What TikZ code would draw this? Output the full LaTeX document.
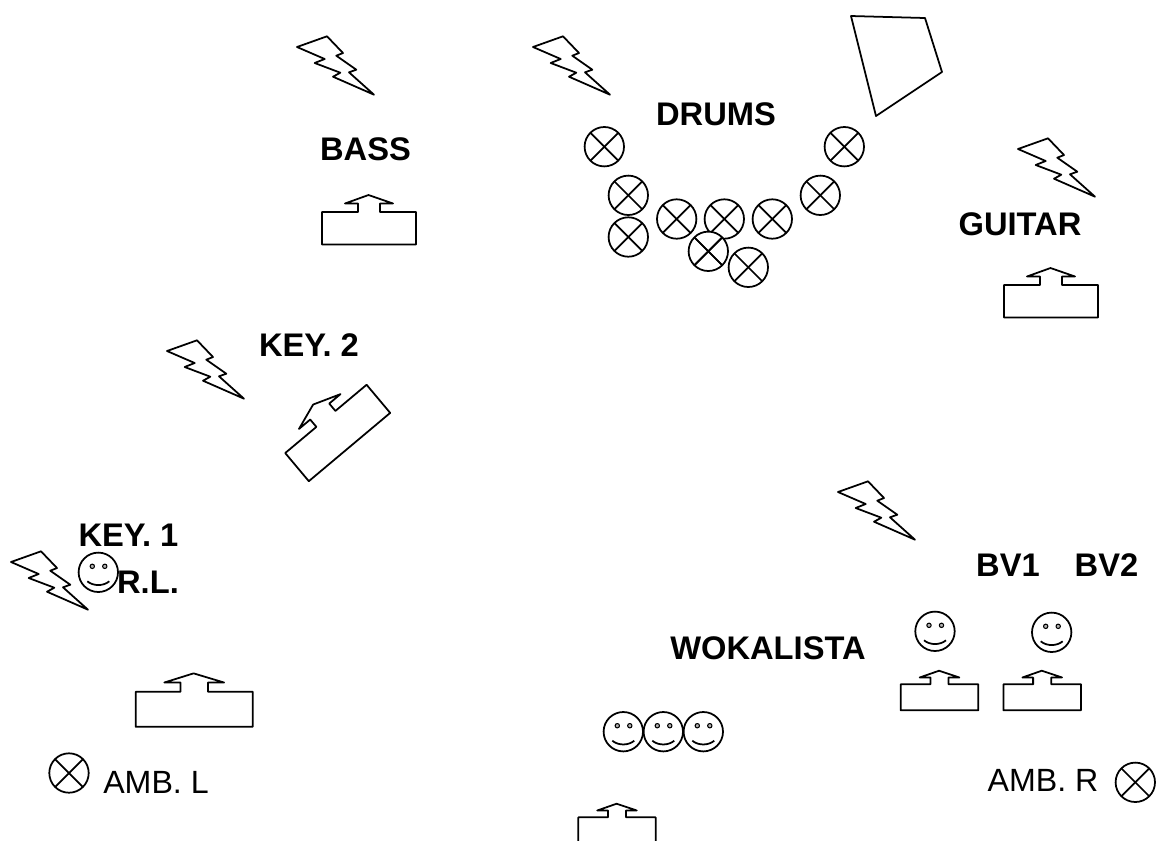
\documentclass[tikz,border=0pt]{standalone}
\usepackage{fontspec}
\setmainfont{Liberation Sans}
\begin{document}
\begin{tikzpicture}[x=0.02cm, y=-0.02cm,
    outline/.style={line width=1pt, line join=round},
    boldlabel/.style={anchor=base, inner sep=0pt, font=\fontsize{18.6}{20}\selectfont\bfseries},
    plainlabel/.style={anchor=base, inner sep=0pt, font=\fontsize{18.3}{20}\selectfont}]

        %Lightning bolt
        \newcommand{\boltmark}[2]{
          \draw [outline, shift={(#1,#2)}] (0,0) -- (30,-10.7) -- (46,6) -- (39.3,8.7) -- (59.3,22.7)
            -- (52,25.3) -- (77,47.7) -- (36,29.7) -- (43.3,25.7) -- (17.7,16) -- (27.7,12) -- cycle;
        }
        %Monitor wedge
        \newcommand{\wedgemark}[3][]{
          \draw [outline, shift={(#2,#3)}, #1] (-47,0) -- (-11,0) -- (-11,-8.5) -- (-24,-8.5) -- (-0.5,-17)
            -- (24,-8.5) -- (11,-8.5) -- (11,0) -- (47,0) -- (47,32.5) -- (-47,32.5) -- cycle;
        }
        %Microphone
        \newcommand{\micmark}[2]{
          \draw [outline, fill=white] (#1,#2) circle [radius=19.7];
          \draw [outline] (#1-13.9,#2-13.9) -- (#1+13.9,#2+13.9);
          \draw [outline] (#1-13.9,#2+13.9) -- (#1+13.9,#2-13.9);
        }
        %Face
        \newcommand{\facemark}[2]{
          \draw [outline] (#1,#2) circle [radius=19.7];
          \draw [outline, fill=gray!60, line width=0.6pt] (#1-6,#2-6) circle [radius=2.2];
          \draw [outline, fill=gray!60, line width=0.6pt] (#1+6.5,#2-6) circle [radius=2.2];
          \draw [outline] (#1-11,#2+9) .. controls (#1-5,#2+14) and (#1+5,#2+14) .. (#1+11,#2+9);
        }

        \clip (0,0) rectangle (1157,840);

        %Bolts
        \foreach \xpos/\ypos in {297/47, 533/47, 1018/149, 167/351, 11/562, 838/492} {
          \boltmark{\xpos}{\ypos}
        }

        %Drum screen
        \draw [outline] (851,16) -- (925,18) -- (942,72) -- (876,116) -- cycle;

        %Drum microphones
        \foreach \xpos/\ypos in {604.3/146.7, 844.3/146.7, 628.3/195.3, 820.3/195.3, 628.3/237,
                                 676.7/219, 724.3/219, 772.3/219, 748.3/267.3, 708.3/251.3} {
          \micmark{\xpos}{\ypos}
        }
        \draw [outline] (708.3-13.9,251.3-13.9) -- (708.3+13.9,251.3+13.9);
        \draw [outline] (708.3-13.9,251.3+13.9) -- (708.3+13.9,251.3-13.9);

        %Room microphones
        \micmark{69}{773}
        \micmark{1135.3}{782.3}

        %Wedges
        \wedgemark{369}{212}
        \wedgemark{1051}{285}
        \wedgemark[xscale=1.245, yscale=1.08]{194.2}{691.7}
        \wedgemark[xscale=0.826, yscale=0.8]{939.5}{684.3}
        \wedgemark[xscale=0.826, yscale=0.8]{1042.2}{684.3}
        \wedgemark[xscale=0.823, yscale=0.8]{617}{817.3}
        \wedgemark[rotate=40, xscale=1.13, yscale=1.13]{325.9}{418.9}

        %Faces
        \facemark{98.3}{572.3}
        \facemark{623.3}{731.7}
        \facemark{663.3}{731.7}
        \facemark{703.3}{731.7}
        \facemark{935}{631.3}
        \facemark{1051.7}{632.3}

        %Labels
        \node [boldlabel] (bass) at (365.5,160.5) {BASS};
        \node [boldlabel] (drums) at (716,125) {DRUMS};
        \node [boldlabel] (guitar) at (1020,235) {GUITAR};
        \node [boldlabel] (keytwo) at (309,356) {KEY. 2};
        \node [boldlabel] (keyone) at (128.5,546) {KEY. 1};
        \node [boldlabel] (rl) at (148,593) {R.L.};
        \node [boldlabel] (wokalista) at (768,659) {WOKALISTA};
        \node [boldlabel] (bvone) at (1008,576) {BV1};
        \node [boldlabel] (bvtwo) at (1106.5,576) {BV2};
        \node [plainlabel] (ambl) at (156,793) {AMB. L};
        \node [plainlabel] (ambr) at (1043,791) {AMB. R};

\end{tikzpicture}
\end{document}
